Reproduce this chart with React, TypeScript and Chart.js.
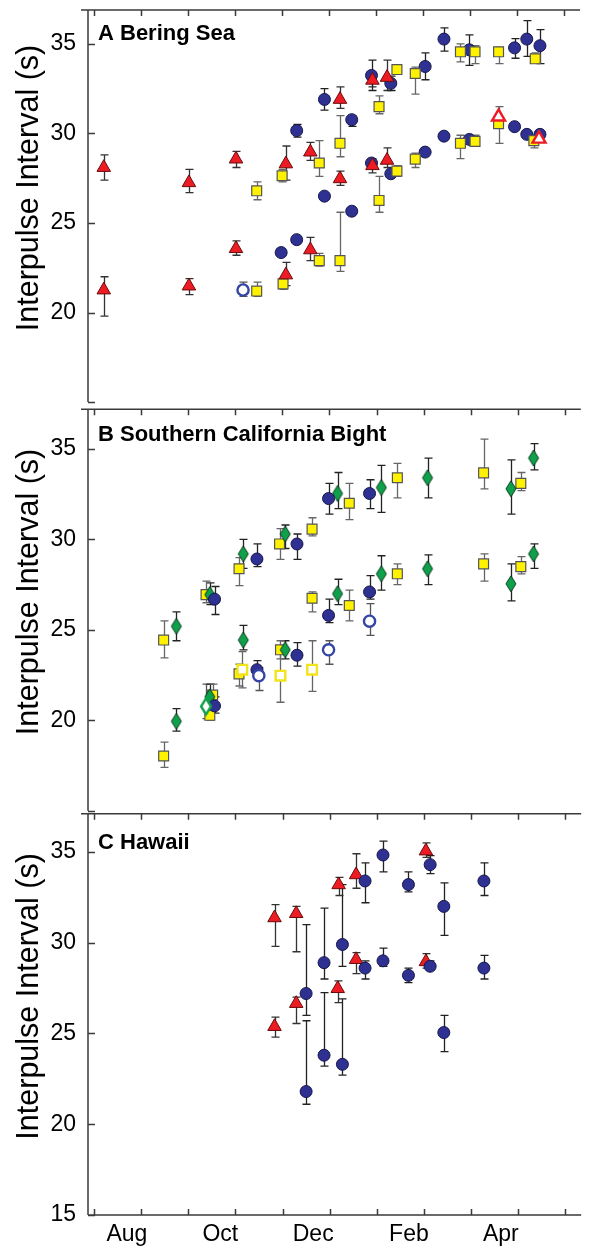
import React, { useEffect, useRef } from 'react';
import { Chart, registerables } from 'chart.js';

Chart.register(...registerables);

// [x (months after the first top tick), y (s), error low, error high]
type Pt = [number, number, number | null, number | null];

const MONTH_TICKS = [0, 1, 2, 3, 4, 5, 6, 7, 8, 9, 10];
const MONTH_LABELS = ['Aug', 'Oct', 'Dec', 'Feb', 'Apr'];
const MONTH_LABEL_POS = [0.7, 2.68, 4.65, 6.68, 8.63];
const Y_TICKS = [15, 20, 25, 30, 35];
const Y_LABELS_AB = [20, 25, 30, 35];
const Y_LABELS_C = [15, 20, 25, 30, 35];
const Y_TITLE = 'Interpulse Interval (s)';
const PANEL_TITLES = ['A Bering Sea', 'B Southern California Bight', 'C Hawaii'];

// ---------- A: Bering Sea ----------
const BERING_TRIANGLES: Pt[] = [
  [0.21, 28.1, 27.4, 28.8],
  [0.21, 21.26, 19.8, 22.0],
  [2.02, 27.25, 26.7, 28.0],
  [2.02, 21.48, 21.0, 21.9],
  [3.02, 28.57, 28.1, 29.0],
  [3.02, 23.57, 23.2, 24.0],
  [4.08, 28.3, 27.4, 29.3],
  [4.08, 22.1, 21.5, 22.8],
  [4.6, 28.96, 28.5, 29.5],
  [4.6, 23.5, 22.9, 24.2],
  [5.23, 31.9, 31.4, 32.6],
  [5.23, 27.47, 27.1, 27.9],
  [5.92, 32.97, 32.6, 33.4],
  [5.92, 28.2, 27.8, 28.6],
  [6.23, 33.13, 32.4, 34.1],
  [6.23, 28.5, 28.1, 29.2],
];
const BERING_TRIANGLES_OPEN: Pt[] = [
  [8.6, 30.93, null, null],
  [9.46, 29.7, null, null],
];
const BERING_SQUARES: Pt[] = [
  [3.46, 26.8, 26.3, 27.3],
  [3.46, 21.2, 20.9, 21.7],
  [4.0, 27.64, 27.3, 28.0],
  [4.02, 21.6, 21.3, 21.9],
  [4.79, 28.35, 27.6, 29.6],
  [4.79, 22.9, 22.6, 23.3],
  [5.23, 29.45, 28.7, 31.0],
  [5.23, 22.9, 22.3, 25.6],
  [6.06, 31.5, 31.1, 32.1],
  [6.06, 26.26, 25.6, 27.6],
  [6.44, 33.57, 33.4, 33.8],
  [6.44, 27.9, 27.6, 28.2],
  [6.83, 33.35, 32.2, 33.7],
  [6.83, 28.57, 28.1, 28.9],
  [7.79, 34.56, 34.0, 35.0],
  [7.79, 29.45, 28.6, 29.9],
  [8.1, 34.56, 33.9, 34.9],
  [8.1, 29.56, 29.4, 29.9],
  [8.6, 34.56, 33.9, 34.8],
  [8.6, 30.55, 29.45, 31.5],
  [9.38, 34.17, 34.0, 34.5],
  [9.35, 29.6, 29.2, 29.9],
];
const BERING_CIRCLES: Pt[] = [
  [3.98, 23.35, null, null],
  [4.31, 30.16, 29.8, 30.5],
  [4.31, 24.07, null, null],
  [4.9, 31.9, 31.3, 32.5],
  [4.9, 26.5, null, null],
  [5.48, 30.77, 30.4, 31.0],
  [5.48, 25.66, null, null],
  [5.9, 33.24, 32.4, 34.1],
  [5.9, 28.35, null, null],
  [6.31, 32.8, 32.4, 33.2],
  [6.31, 27.75, null, null],
  [7.04, 33.74, 33.0, 34.5],
  [7.04, 28.96, null, null],
  [7.44, 35.27, 34.6, 35.9],
  [7.44, 29.85, null, null],
  [7.98, 34.67, 33.8, 35.5],
  [7.98, 29.67, null, null],
  [8.94, 34.78, 34.2, 35.3],
  [8.94, 30.38, null, null],
  [9.2, 35.27, 34.3, 36.3],
  [9.2, 29.95, null, null],
  [9.48, 34.9, 33.9, 35.8],
  [9.48, 29.95, null, null],
];
const BERING_CIRCLES_OPEN: Pt[] = [[3.17, 21.26, 20.9, 21.7]];

// ---------- B: Southern California Bight ----------
const SCB_SQUARES: Pt[] = [
  [1.48, 24.44, 23.45, 25.5],
  [1.48, 18.03, 17.4, 18.8],
  [2.38, 26.95, 26.5, 27.7],
  [2.52, 21.4, 20.9, 22.0],
  [2.46, 20.28, 20.0, 20.6],
  [3.08, 28.38, 27.45, 29.0],
  [3.08, 22.57, 21.9, 23.1],
  [3.94, 29.75, 28.9, 30.6],
  [3.96, 23.9, 23.4, 24.4],
  [4.63, 30.57, 30.2, 31.2],
  [4.63, 26.75, 26.0, 27.1],
  [5.42, 32.0, 31.1, 33.1],
  [5.42, 26.35, 25.5, 27.2],
  [6.44, 33.41, 32.3, 34.2],
  [6.44, 28.1, 27.5, 28.65],
  [8.27, 33.68, 32.8, 35.55],
  [8.27, 28.65, 27.7, 29.2],
  [9.06, 33.1, 32.7, 33.7],
  [9.06, 28.5, 28.1, 29.05],
];
const SCB_SQUARES_OPEN: Pt[] = [
  [3.15, 22.8, 21.8, 23.8],
  [3.96, 22.47, 21.0, 23.95],
  [4.63, 22.8, 21.6, 24.4],
];
const SCB_DIAMONDS: Pt[] = [
  [1.75, 25.2, 24.4, 26.0],
  [1.75, 19.95, 19.4, 20.65],
  [2.46, 26.95, 26.4, 27.6],
  [2.46, 21.3, 20.6, 22.0],
  [3.17, 29.2, 28.4, 30.0],
  [3.17, 24.44, 23.9, 25.25],
  [4.06, 30.3, 29.5, 30.8],
  [4.06, 23.9, 23.4, 24.4],
  [5.17, 32.54, 31.7, 33.7],
  [5.17, 27.0, 26.4, 27.8],
  [6.1, 32.87, 31.5, 34.1],
  [6.1, 28.1, 27.2, 29.1],
  [7.08, 33.41, 32.3, 34.5],
  [7.08, 28.38, 27.5, 29.15],
  [8.85, 32.8, 31.4, 34.4],
  [8.85, 27.55, 26.6, 28.65],
  [9.33, 34.5, 33.85, 35.3],
  [9.33, 29.2, 28.4, 29.75],
];
const SCB_DIAMONDS_OPEN: Pt[] = [[2.38, 20.77, 20.1, 22.0]];
const SCB_CIRCLES: Pt[] = [
  [2.56, 26.7, 25.85, 27.4],
  [2.56, 20.8, 20.4, 21.3],
  [3.46, 28.92, 28.5, 29.75],
  [3.46, 22.8, 22.4, 23.3],
  [4.31, 29.75, 28.9, 30.3],
  [4.31, 23.6, 23.0, 24.3],
  [4.98, 32.26, 31.4, 33.1],
  [4.98, 25.8, 25.4, 26.7],
  [5.85, 32.54, 31.7, 33.3],
  [5.85, 27.1, 26.7, 28.0],
];
const SCB_CIRCLES_OPEN: Pt[] = [
  [3.5, 22.47, 21.65, 22.9],
  [4.98, 23.9, 23.1, 24.4],
  [5.85, 25.48, 24.7, 26.45],
];

// ---------- C: Hawaii ----------
const HAWAII_TRIANGLES: Pt[] = [
  [3.83, 31.37, 29.8, 32.1],
  [3.83, 25.38, 24.8, 25.9],
  [4.29, 31.6, 29.5, 32.0],
  [4.29, 26.65, 25.55, 27.0],
  [5.19, 33.19, 32.6, 33.6],
  [5.17, 27.47, 26.7, 27.9],
  [5.56, 33.74, 33.0, 34.9],
  [5.56, 29.07, 28.3, 29.45],
  [7.04, 35.05, 34.7, 35.5],
  [7.04, 28.95, 28.6, 29.4],
];
const HAWAII_CIRCLES: Pt[] = [
  [4.5, 27.2, 26.0, 31.0],
  [4.5, 21.8, 21.1, 25.7],
  [4.88, 28.9, 28.0, 31.9],
  [4.88, 23.8, 23.2, 27.25],
  [5.27, 29.9, 28.7, 33.2],
  [5.27, 23.3, 22.7, 26.9],
  [5.75, 33.4, 32.2, 34.4],
  [5.75, 28.6, 28.0, 29.0],
  [6.13, 34.83, 33.9, 35.6],
  [6.13, 29.0, 28.7, 29.7],
  [6.67, 33.2, 32.8, 33.9],
  [6.67, 28.2, 27.8, 28.6],
  [7.13, 34.3, 33.8, 34.8],
  [7.13, 28.7, 28.5, 29.0],
  [7.42, 32.0, 30.4, 33.3],
  [7.42, 25.05, 24.0, 26.0],
  [8.27, 33.4, 32.6, 34.4],
  [8.27, 28.6, 28.0, 29.3],
];

// ---------- styling ----------
const FONT = "'Liberation Sans', Arial, Helvetica, sans-serif";
const X_MIN = -0.125;
const X_MAX = 10.333;
const RED = '#ED1C24';
const YELLOW = '#FFF200';
const NAVY = '#2E3192';
const GREEN = '#0FA04B';
const AXIS = '#3a3a3a';

function diamond(fill: string, stroke: string, lw: number, w: number, h: number) {
  const c = document.createElement('canvas');
  const pad = Math.ceil(lw) + 1;
  c.width = w + 2 * pad;
  c.height = h + 2 * pad;
  const ctx = c.getContext('2d')!;
  const cx = c.width / 2;
  const cy = c.height / 2;
  ctx.beginPath();
  ctx.moveTo(cx, cy - h / 2);
  ctx.lineTo(cx + w / 2, cy);
  ctx.lineTo(cx, cy + h / 2);
  ctx.lineTo(cx - w / 2, cy);
  ctx.closePath();
  ctx.fillStyle = fill;
  ctx.fill();
  ctx.lineWidth = lw;
  ctx.strokeStyle = stroke;
  ctx.stroke();
  return c;
}

type Style = {
  pointStyle: any;
  radius: number;
  fill: string;
  stroke: string;
  lw: number;
  err: string;
};

const TRI: Style = { pointStyle: 'triangle', radius: 7.8, fill: RED, stroke: '#6b0a0a', lw: 1, err: '#333' };
const TRI_OPEN: Style = { pointStyle: 'triangle', radius: 7.5, fill: '#ffffff', stroke: RED, lw: 2.4, err: '#333' };
const SQ: Style = { pointStyle: 'rect', radius: 7, fill: YELLOW, stroke: '#555', lw: 1.2, err: '#666' };
const SQ_OPEN: Style = { pointStyle: 'rect', radius: 6.8, fill: '#ffffff', stroke: '#F2E41A', lw: 2.4, err: '#666' };
const CIR: Style = { pointStyle: 'circle', radius: 6, fill: NAVY, stroke: '#15174a', lw: 1, err: '#222' };
const CIR_OPEN: Style = { pointStyle: 'circle', radius: 5.6, fill: '#ffffff', stroke: '#3445A6', lw: 2.4, err: '#555' };

function makeDs(label: string, pts: Pt[], s: Style) {
  return {
    label,
    data: pts.map((p) => ({ x: p[0], y: p[1] })),
    errLo: pts.map((p) => p[2]),
    errHi: pts.map((p) => p[3]),
    errColor: s.err,
    pointStyle: s.pointStyle,
    pointRadius: s.radius,
    pointBackgroundColor: s.fill,
    pointBorderColor: s.stroke,
    pointBorderWidth: s.lw,
    showLine: false,
  };
}

const errorBars = {
  id: 'errorBars',
  beforeDatasetsDraw(chart: any) {
    const { ctx } = chart;
    const xs = chart.scales.x;
    const ys = chart.scales.y;
    ctx.save();
    ctx.lineWidth = 1.3;
    chart.data.datasets.forEach((d: any) => {
      if (!d.errLo) return;
      ctx.strokeStyle = d.errColor;
      d.data.forEach((p: any, i: number) => {
        const lo = d.errLo[i];
        const hi = d.errHi[i];
        if (lo == null && hi == null) return;
        const px = Math.round(xs.getPixelForValue(p.x)) + 0.5;
        const y0 = ys.getPixelForValue(lo ?? p.y);
        const y1 = ys.getPixelForValue(hi ?? p.y);
        ctx.beginPath();
        ctx.moveTo(px, y0);
        ctx.lineTo(px, y1);
        if (lo != null) {
          ctx.moveTo(px - 4, y0);
          ctx.lineTo(px + 4, y0);
        }
        if (hi != null) {
          ctx.moveTo(px - 4, y1);
          ctx.lineTo(px + 4, y1);
        }
        ctx.stroke();
      });
    });
    ctx.restore();
  },
};

function makeDecor(title: string, titleDrop: number, bottomAxis: boolean) {
  return {
    id: 'decor',
    beforeDatasetsDraw(chart: any) {
      const { ctx, chartArea: a } = chart;
      const xs = chart.scales.x;
      const ys = chart.scales.y;
      ctx.save();
      ctx.strokeStyle = AXIS;
      ctx.lineWidth = 1.5;
      ctx.beginPath();
      ctx.moveTo(a.left, a.top);
      ctx.lineTo(a.left, a.bottom);
      ctx.moveTo(a.left - 7, a.top);
      ctx.lineTo(a.right, a.top);
      MONTH_TICKS.forEach((m) => {
        const px = Math.round(xs.getPixelForValue(m)) + 0.5;
        ctx.moveTo(px, a.top);
        ctx.lineTo(px, a.top + 6);
      });
      if (bottomAxis) {
        ctx.moveTo(a.left, a.bottom);
        ctx.lineTo(a.right, a.bottom);
        MONTH_TICKS.forEach((m) => {
          const px = Math.round(xs.getPixelForValue(m)) + 0.5;
          ctx.moveTo(px, a.bottom);
          ctx.lineTo(px, a.bottom - 6);
        });
      }
      Y_TICKS.forEach((v) => {
        const py = Math.round(ys.getPixelForValue(v)) + 0.5;
        ctx.moveTo(a.left, py);
        ctx.lineTo(a.left + 7, py);
      });
      ctx.stroke();
      ctx.restore();
    },
    afterDraw(chart: any) {
      const { ctx, chartArea: a } = chart;
      ctx.save();
      ctx.fillStyle = '#000';
      ctx.font = `bold 22px ${FONT}`;
      ctx.textAlign = 'left';
      ctx.textBaseline = 'alphabetic';
      ctx.fillText(title, a.left + 10, a.top + titleDrop);
      ctx.translate(30, (a.top + a.bottom) / 2 - 18);
      ctx.rotate(-Math.PI / 2);
      ctx.font = `30.5px ${FONT}`;
      ctx.textAlign = 'center';
      ctx.textBaseline = 'middle';
      ctx.fillText(Y_TITLE, 0, 0);
      ctx.restore();
    },
  };
}

type PanelProps = {
  top: number;
  height: number;
  padTop: number;
  padBottom: number;
  yMax: number;
  yLabels: number[];
  title: string;
  titleDrop: number;
  bottomAxis: boolean;
  datasets: any[];
};

function Panel(props: PanelProps) {
  const ref = useRef<HTMLCanvasElement>(null);
  useEffect(() => {
    const chart = new Chart(ref.current!, {
      type: 'scatter',
      data: { datasets: props.datasets },
      options: {
        animation: false,
        responsive: false,
        events: [],
        layout: { padding: { left: 0, right: 0, top: props.padTop, bottom: props.padBottom } },
        plugins: { legend: { display: false }, tooltip: { enabled: false } },
        scales: {
          x: {
            type: 'linear',
            min: X_MIN,
            max: X_MAX,
            display: props.bottomAxis,
            grid: { display: false, drawTicks: false },
            border: { display: false },
            afterBuildTicks: (s: any) => {
              s.ticks = MONTH_LABEL_POS.map((v) => ({ value: v }));
            },
            afterFit: (s: any) => {
              s.height = props.bottomAxis ? 33 : 0;
              s.paddingLeft = 0;
              s.paddingRight = 0;
            },
            ticks: {
              autoSkip: false,
              maxRotation: 0,
              padding: 6,
              color: '#000',
              font: { family: FONT, size: 23 },
              callback: (_v: any, i: number) => MONTH_LABELS[i],
            },
          },
          y: {
            type: 'linear',
            min: 15,
            max: props.yMax,
            grid: { display: false, drawTicks: false },
            border: { display: false },
            afterBuildTicks: (s: any) => {
              s.ticks = props.yLabels.map((v) => ({ value: v }));
            },
            afterFit: (s: any) => {
              s.width = 88;
              s.paddingTop = 0;
              s.paddingBottom = 0;
            },
            ticks: {
              padding: 12,
              color: '#000',
              font: { family: FONT, size: 23 },
              callback: (v: any) => String(v),
            },
          },
        },
      } as any,
      plugins: [errorBars, makeDecor(props.title, props.titleDrop, props.bottomAxis)],
    });
    return () => chart.destroy();
  }, []);
  return (
    <div style={{ position: 'absolute', left: 0, top: props.top, width: 590, height: props.height }}>
      <canvas ref={ref} width={590} height={props.height} style={{ width: 590, height: props.height, display: 'block' }} />
    </div>
  );
}

export default function App() {
  const diamondFill = diamond(GREEN, '#0b3a1b', 1, 10, 16);
  const diamondOpen = diamond('#ffffff', GREEN, 2.4, 10, 16);
  const DIA: Style = { pointStyle: diamondFill, radius: 6, fill: GREEN, stroke: '#0b3a1b', lw: 1, err: '#222' };
  const DIA_OPEN: Style = { pointStyle: diamondOpen, radius: 6, fill: '#fff', stroke: GREEN, lw: 2.4, err: '#555' };

  const bering = [
    makeDs('open triangles', BERING_TRIANGLES_OPEN, TRI_OPEN),
    makeDs('open circles', BERING_CIRCLES_OPEN, CIR_OPEN),
    makeDs('triangles', BERING_TRIANGLES, TRI),
    makeDs('squares', BERING_SQUARES, SQ),
    makeDs('circles', BERING_CIRCLES, CIR),
  ];
  const scb = [
    makeDs('open diamonds', SCB_DIAMONDS_OPEN, DIA_OPEN),
    makeDs('open circles', SCB_CIRCLES_OPEN, CIR_OPEN),
    makeDs('open squares', SCB_SQUARES_OPEN, SQ_OPEN),
    makeDs('circles', SCB_CIRCLES, CIR),
    makeDs('diamonds', SCB_DIAMONDS, DIA),
    makeDs('squares', SCB_SQUARES, SQ),
  ];
  const hawaii = [
    makeDs('circles', HAWAII_CIRCLES, CIR),
    makeDs('triangles', HAWAII_TRIANGLES, TRI),
  ];

  return (
    <div style={{ position: 'absolute', left: 0, top: 0, width: 590, height: 1248, background: '#fff', overflow: 'hidden' }}>
      <Panel top={0} height={412} padTop={7} padBottom={6} yMax={36.9} yLabels={Y_LABELS_AB} title={PANEL_TITLES[0]} titleDrop={30} bottomAxis={false} datasets={bering} />
      <Panel top={400} height={420} padTop={8} padBottom={7} yMax={37.2} yLabels={Y_LABELS_AB} title={PANEL_TITLES[1]} titleDrop={32} bottomAxis={false} datasets={scb} />
      <Panel top={805} height={443} padTop={8} padBottom={0} yMax={37.1} yLabels={Y_LABELS_C} title={PANEL_TITLES[2]} titleDrop={35} bottomAxis={true} datasets={hawaii} />
    </div>
  );
}
